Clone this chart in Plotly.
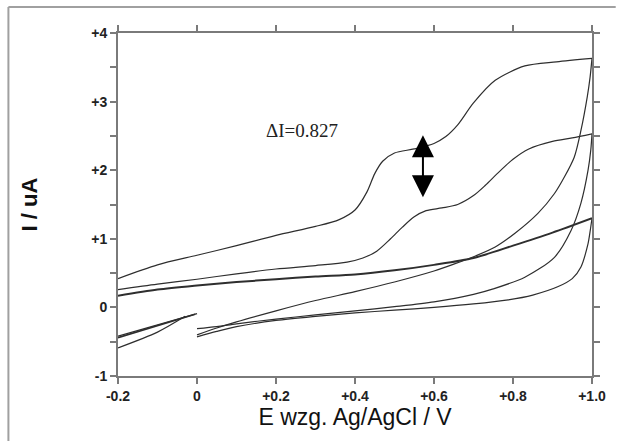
import plotly.graph_objects as go

# --- cycle 1 (highest current) ---
cv1_start_e = [0.0, -0.2]
cv1_start_i = [-0.09, -0.42]
cv1_fwd_e = [-0.2, -0.1, 0.0, 0.1, 0.2, 0.3, 0.36, 0.40, 0.43, 0.45, 0.47, 0.50, 0.55, 0.60,
             0.63, 0.66, 0.70, 0.755, 0.83, 0.91, 1.0]
cv1_fwd_i = [0.42, 0.62, 0.76, 0.90, 1.05, 1.18, 1.28, 1.42, 1.68, 1.95, 2.13, 2.25, 2.31, 2.39,
             2.49, 2.66, 2.98, 3.31, 3.52, 3.58, 3.63]
cv1_rev_e = [1.0, 0.995, 0.988, 0.972, 0.955, 0.93, 0.905, 0.863, 0.805, 0.755, 0.705, 0.65,
             0.6, 0.5, 0.4, 0.3, 0.2, 0.1, 0.05, 0.0]
cv1_rev_i = [3.63, 3.35, 3.07, 2.58, 2.19, 1.9, 1.66, 1.37, 1.08, 0.88, 0.75, 0.63,
             0.53, 0.37, 0.23, 0.1, -0.05, -0.21, -0.3, -0.40]

# --- cycle 2 ---
cv2_start_e = [-0.03, -0.1, -0.2]
cv2_start_i = [-0.13, -0.36, -0.59]
cv2_fwd_e = [-0.2, -0.1, 0.0, 0.1, 0.2, 0.3, 0.38, 0.42, 0.455, 0.49, 0.52, 0.55, 0.58, 0.62,
             0.66, 0.70, 0.73, 0.76, 0.80, 0.84, 0.90, 0.95, 1.0]
cv2_fwd_i = [0.26, 0.34, 0.41, 0.49, 0.56, 0.61, 0.66, 0.72, 0.82, 1.0, 1.17, 1.32, 1.41, 1.45,
             1.50, 1.63, 1.78, 1.95, 2.16, 2.31, 2.42, 2.47, 2.53]
cv2_rev_e = [1.0, 0.997, 0.99, 0.972, 0.947, 0.905, 0.83, 0.75, 0.7, 0.6, 0.5, 0.4, 0.3, 0.2,
             0.1, 0.05, 0.0]
cv2_rev_i = [2.53, 2.3, 2.0, 1.52, 1.12, 0.73, 0.44, 0.27, 0.19, 0.08, 0.01, -0.05, -0.11, -0.17,
             -0.24, -0.28, -0.31]

# --- cycle 3 (blank, thick line) ---
cv3_start_e = [-0.005, -0.2]
cv3_start_i = [-0.10, -0.44]
cv3_fwd_e = [-0.2, -0.1, 0.0, 0.1, 0.2, 0.3, 0.4, 0.5, 0.6, 0.7, 0.8, 0.9, 1.0]
cv3_fwd_i = [0.17, 0.26, 0.32, 0.37, 0.41, 0.45, 0.48, 0.54, 0.62, 0.72, 0.90, 1.09, 1.30]
cv3_rev_e = [1.0, 0.995, 0.99, 0.972, 0.95, 0.913, 0.85, 0.788, 0.7, 0.6, 0.5, 0.4, 0.3, 0.2,
             0.1, 0.05, 0.0]
cv3_rev_i = [1.30, 1.1, 0.93, 0.59, 0.42, 0.30, 0.18, 0.11, 0.05, 0.0, -0.04, -0.08, -0.13, -0.19,
             -0.28, -0.35, -0.43]

y_ticks = [-1, 0, 1, 2, 3, 4]
y_labels = ["-1", "0", "+1", "+2", "+3", "+4"]
x_ticks = [-0.2, 0.0, 0.2, 0.4, 0.6, 0.8, 1.0]
x_labels = ["-0.2", "0", "+0.2", "+0.4", "+0.6", "+0.8", "+1.0"]

delta_label = "\u0394I=0.827"

fig = go.Figure()

ink = "#2e2e2e"
for e, i, w in [
    (cv1_start_e, cv1_start_i, 1.3), (cv1_fwd_e, cv1_fwd_i, 1.2), (cv1_rev_e, cv1_rev_i, 1.2),
    (cv2_start_e, cv2_start_i, 1.2), (cv2_fwd_e, cv2_fwd_i, 1.2), (cv2_rev_e, cv2_rev_i, 1.2),
    (cv3_start_e, cv3_start_i, 1.8), (cv3_fwd_e, cv3_fwd_i, 2.0), (cv3_rev_e, cv3_rev_i, 1.2),
]:
    fig.add_trace(go.Scatter(x=e, y=i, mode="lines", line=dict(color=ink, width=w, shape="spline", smoothing=0.8),
                             showlegend=False, hoverinfo="skip"))

axis_col = "#7a7a7a"
fig.update_xaxes(range=[-0.2, 1.0], tickvals=x_ticks, ticktext=["<b>%s</b>" % t for t in x_labels],
                 ticks="outside", ticklen=6, tickwidth=1.5, tickcolor=axis_col,
                 showline=True, linecolor=axis_col, linewidth=2, mirror="ticks",
                 showgrid=False, zeroline=False,
                 tickfont=dict(family="Liberation Sans, Arial", size=14, color="#222"),
                 title=dict(text="E wzg. Ag/AgCl / V", standoff=5,
                            font=dict(family="Liberation Sans, Arial", size=23, color="#111")))
fig.update_yaxes(range=[-1, 4], tickvals=y_ticks, ticktext=["<b>%s</b>" % t for t in y_labels],
                 ticks="outside", ticklen=6, tickwidth=1.5, tickcolor=axis_col,
                 minor=dict(dtick=0.5, ticks="outside", ticklen=6, tickwidth=1.5, tickcolor=axis_col),
                 showline=True, linecolor=axis_col, linewidth=2, mirror="ticks",
                 showgrid=False, zeroline=False,
                 tickfont=dict(family="Liberation Sans, Arial", size=14, color="#222"),
                 title=dict(text="<b>I / uA</b>", standoff=48,
                            font=dict(family="Liberation Sans, Arial", size=22, color="#111")))

fig.add_annotation(x=0.266, y=2.58, xref="x", yref="y", text=delta_label, showarrow=False,
                   font=dict(family="Liberation Serif, Times New Roman", size=19, color="#222"))
fig.add_annotation(x=0.572, y=2.51, ax=0.572, ay=1.585, xref="x", yref="y", axref="x", ayref="y",
                   text="", showarrow=True, arrowhead=2, startarrowhead=2, arrowside="end+start",
                   arrowsize=2.2, startarrowsize=2.2, arrowwidth=2, arrowcolor="#000",
                   standoff=0, startstandoff=0)

# grey frame of the scanned page (left and top edges)
fig.add_shape(type="line", xref="paper", yref="paper", x0=-0.2312, x1=-0.2312, y0=1.0758, y1=-0.25,
              line=dict(color="#a0a0a0", width=2))
fig.add_shape(type="line", xref="paper", yref="paper", x0=-0.2312, x1=1.05, y0=1.0758, y1=1.0758,
              line=dict(color="#a0a0a0", width=2))

fig.update_layout(width=618, height=441, margin=dict(l=118, r=20, t=33, b=65),
                  paper_bgcolor="white", plot_bgcolor="white")

fig.write_html("out.html", config={"displayModeBar": False},
               post_script="document.body.style.margin='0';")
